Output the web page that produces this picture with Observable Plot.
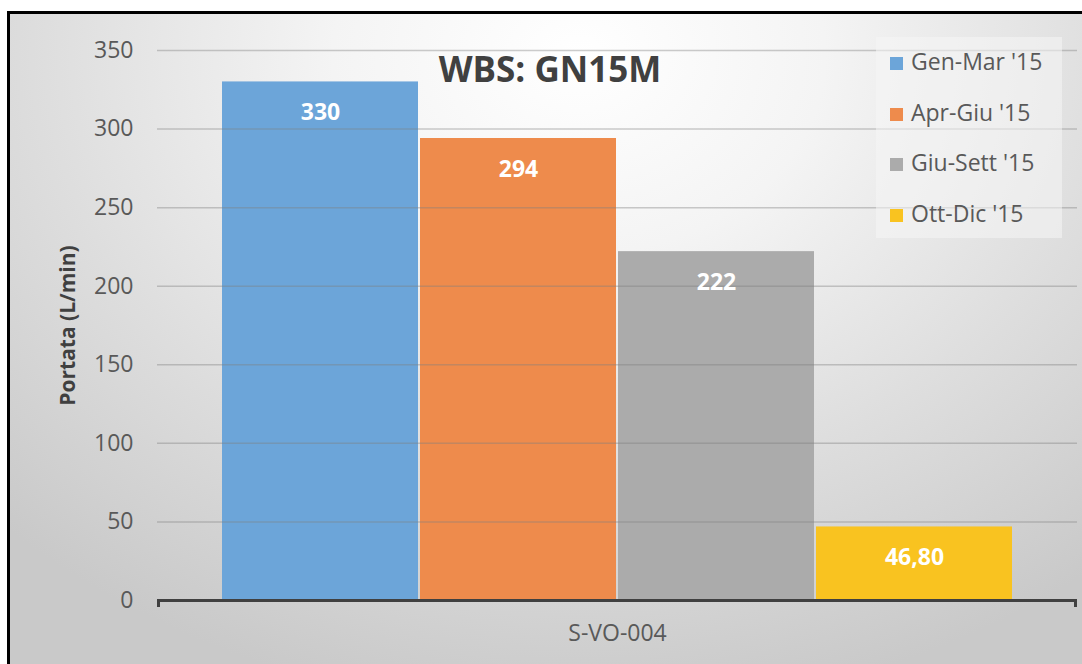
<!DOCTYPE html>
<html>
<head>
<meta charset="utf-8">
<script src="https://cdn.jsdelivr.net/npm/d3@7"></script>
<script src="https://cdn.jsdelivr.net/npm/@observablehq/plot@0.6"></script>
<style>
  html, body { margin: 0; padding: 0; width: 1082px; height: 664px; overflow: hidden; background: #fff; }
  #frame {
    position: absolute; left: 7px; top: 11px; width: 1100px; height: 700px;
    border: 3px solid #000; box-sizing: border-box;
    background: radial-gradient(ellipse 75% 95% at 52% 6%, #ffffff 0%, #f4f4f4 30%, #dedede 65%, #c9c9c9 100%);
  }
  #chart { position: absolute; left: 0; top: 0; }
  #title {
    position: absolute; left: 0; width: 1100px; top: 45px; text-align: center;
    font-family: "Open Sans", sans-serif; font-weight: bold; font-size: 35px; color: #404040;
  }
  #legend {
    position: absolute; left: 876px; top: 37px; width: 186px; height: 201px;
    background: rgba(245,245,245,0.55);
    font-family: "Open Sans", sans-serif; font-size: 23px; color: #595959;
  }
  .item { position: absolute; left: 14px; height: 30px; line-height: 30px; white-space: nowrap; }
  .sw { display: inline-block; width: 13px; height: 13px; margin-right: 8px; vertical-align: 0px; }
</style>
</head>
<body>
<div id="frame"></div>
<div id="chart"></div>
<div id="title">WBS: GN15M</div>
<div id="legend"></div>
<script>
const category = "S-VO-004";
const series = ["Gen-Mar '15", "Apr-Giu '15", "Giu-Sett '15", "Ott-Dic '15"];
const values = [330, 294, 222, 46.8];
const valueLabels = ["330", "294", "222", "46,80"];
const colors = ["#6ca5d9", "#ee8b4c", "#ababab", "#f9c320"];
const yTicks = [0, 50, 100, 150, 200, 250, 300, 350];
const yLabel = "Portata (L/min)";

const data = series.map((s, i) => ({category, series: s, value: values[i], label: valueLabels[i]}));

const chart = Plot.plot({
  width: 1082,
  height: 664,
  marginTop: 50,
  marginBottom: 64,
  marginLeft: 157,
  marginRight: 5,
  style: {fontFamily: "Open Sans, sans-serif", fontSize: "22px", color: "#595959", background: "transparent", overflow: "visible"},
  fx: {domain: [category], padding: 0, label: null, axis: null},
  x: {domain: series, paddingInner: 0.008, paddingOuter: 0.32, axis: null},
  y: {domain: [0, 350], ticks: yTicks, label: yLabel},
  color: {domain: series, range: colors},
  marks: [
    Plot.barY(data, {fx: "category", x: "series", y: "value", fill: "series"}),
    Plot.gridY(yTicks.filter(d => d > 0), {stroke: "#7f7f7f", strokeOpacity: 0.4, strokeWidth: 1.5}),
    Plot.text(data, {fx: "category", x: "series", y: "value", text: "label", dy: 31, fill: "#fff", fontWeight: "bold", fontSize: 23}),
    Plot.ruleY([0], {stroke: "#404040", strokeWidth: 3}),
    Plot.axisY({ticks: yTicks, tickSize: 0, tickPadding: 24, fontSize: 23, label: yLabel, labelAnchor: "center", labelOffset: 97, labelArrow: "none"}),
    Plot.axisFx({anchor: "bottom", tickSize: 0, tickPadding: 24, fontSize: 23, label: null})
  ]
});
document.getElementById("chart").appendChild(chart);

// style the y-axis label
const lab = chart.querySelector('g[aria-label="y-axis label"]');
if (lab) { lab.setAttribute("font-weight", "bold"); lab.setAttribute("font-size", "21"); lab.setAttribute("fill", "#404040"); }

// end ticks on axis line
const fxr = chart.scale("fx").range;
const y0 = chart.scale("y").apply(0);
const svg = d3.select(chart);
[fxr[0] + 1.5, fxr[1] - 1.5].forEach(x => {
  svg.append("line").attr("x1", x).attr("x2", x).attr("y1", y0).attr("y2", y0 + 7)
    .attr("stroke", "#404040").attr("stroke-width", 3);
});

// legend
const legend = document.getElementById("legend");
series.forEach((s, i) => {
  const d = document.createElement("div");
  d.className = "item";
  d.style.top = (9 + i * 50.5) + "px";
  d.innerHTML = `<span class="sw" style="background:${colors[i]}"></span>${s}`;
  legend.appendChild(d);
});
</script>
</body>
</html>
